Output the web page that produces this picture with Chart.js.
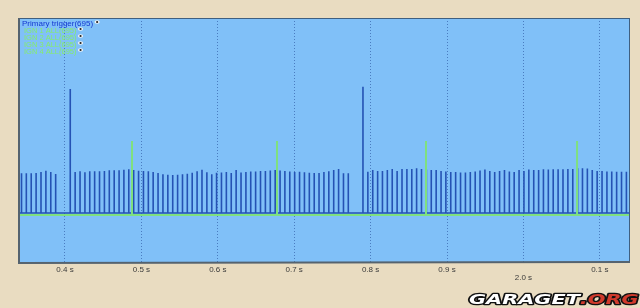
<!DOCTYPE html>
<html>
<head>
<meta charset="utf-8">
<script src="https://cdn.jsdelivr.net/npm/chart.js@4.4.1/dist/chart.umd.min.js"></script>
<style>
  html, body { margin: 0; padding: 0; background: #e9dcc1; }
  #wrap { width: 640px; height: 308px; position: relative; }
</style>
</head>
<body>
<div id="wrap"><canvas id="c" width="640" height="308"></canvas></div>
<script>
// ---- DATA ----
const tickValues = [0.4, 0.5, 0.6, 0.7, 0.8, 0.9, 1.0, 1.1];
const tickLabels = ['0.4 s', '0.5 s', '0.6 s', '0.7 s', '0.8 s', '0.9 s', ['', '2.0 s'], '0.1 s'];

// Primary trigger: tooth times (s) and tooth levels (two tall spikes after the gaps)
const triggerTimes = [
  0.3431, 0.3494, 0.3558, 0.3622, 0.3686, 0.3750, 0.3814, 0.3878,
  0.4069,
  0.4133, 0.4197, 0.4261, 0.4324, 0.4388, 0.4452, 0.4516, 0.4580, 0.4644, 0.4708,
  0.4771, 0.4835, 0.4899, 0.4963, 0.5027, 0.5091, 0.5154, 0.5218, 0.5282, 0.5346,
  0.5410, 0.5474, 0.5538, 0.5601, 0.5665, 0.5729, 0.5793, 0.5857, 0.5921, 0.5984,
  0.6048, 0.6112, 0.6176, 0.6240, 0.6304, 0.6368, 0.6431, 0.6495, 0.6559, 0.6623,
  0.6687, 0.6751, 0.6815, 0.6878, 0.6942, 0.7006, 0.7070, 0.7134, 0.7198, 0.7262,
  0.7325, 0.7389, 0.7453, 0.7517, 0.7581, 0.7645, 0.7708,
  0.7900,
  0.7964, 0.8028, 0.8092, 0.8155, 0.8219, 0.8283, 0.8347, 0.8411, 0.8475, 0.8539,
  0.8602, 0.8666, 0.8730, 0.8794, 0.8858, 0.8922, 0.8985, 0.9049, 0.9113, 0.9177,
  0.9241, 0.9305, 0.9369, 0.9432, 0.9496, 0.9560, 0.9624, 0.9688, 0.9752, 0.9816,
  0.9879, 0.9943, 1.0007, 1.0071, 1.0135, 1.0199, 1.0262, 1.0326, 1.0390, 1.0454,
  1.0518, 1.0582, 1.0646, 1.0709, 1.0773, 1.0837, 1.0901, 1.0965, 1.1029, 1.1093,
  1.1156, 1.1220, 1.1284, 1.1348
];
const triggerLevels = [
  3.97, 3.97, 3.97, 4.00, 4.10, 4.23, 4.10, 3.90,
  12.40,
  4.10, 4.17, 4.07, 4.17, 4.17, 4.17, 4.20, 4.27, 4.27, 4.27,
  4.33, 4.37, 4.30, 4.23, 4.20, 4.17, 4.10, 4.00, 3.87, 3.83,
  3.80, 3.83, 3.87, 3.93, 4.03, 4.17, 4.33, 4.07, 3.87, 4.03,
  4.05, 4.10, 4.00, 4.30, 4.05, 4.10, 4.15, 4.15, 4.20, 4.20,
  4.25, 4.30, 4.25, 4.20, 4.15, 4.10, 4.13, 4.07, 4.03, 4.00,
  4.00, 4.10, 4.17, 4.30, 4.40, 3.97, 3.97,
  12.63,
  4.13, 4.30, 4.20, 4.20, 4.30, 4.40, 4.20, 4.40, 4.40, 4.40,
  4.47, 4.40, 4.35, 4.30, 4.30, 4.20, 4.15, 4.10, 4.10, 4.05,
  4.05, 4.10, 4.15, 4.25, 4.35, 4.20, 4.10, 4.20, 4.30, 4.15,
  4.10, 4.30, 4.20, 4.35, 4.30, 4.30, 4.37, 4.35, 4.37, 4.37,
  4.37, 4.40, 4.40, 4.47, 4.47, 4.45, 4.30, 4.20, 4.20, 4.15,
  4.15, 4.13, 4.13, 4.13
];

// Ignition channels: one spark each in this window
const ignLabels = ['IGN 1 ALL(695)', 'IGN 2 ALL(695)', 'IGN 3 ALL(695)', 'IGN 4 ALL(695)'];
const ignTimes = [0.4877, 0.6775, 0.8725, 1.0702];
const ignLevels = [7.2, 7.2, 7.2, 7.2];
const ignBase = -0.2;
const triggerLabel = 'Primary trigger(695)';

// ---- CHART ----
const X_MIN = 0.3385, X_MAX = 1.1395;

function comb(times, levels, base) {
  const pts = [{ x: X_MIN, y: base }];
  times.forEach((t, i) => {
    pts.push({ x: t, y: base }, { x: t, y: levels[i] }, { x: t, y: base });
  });
  pts.push({ x: X_MAX, y: base });
  return pts;
}

const BLUE = '#2452b4';
const GREEN = '#7fe07f';

const datasets = [{
  label: triggerLabel,
  data: comb(triggerTimes, triggerLevels, 0),
  borderColor: BLUE, borderWidth: 1.6, pointRadius: 0, tension: 0, order: 1
}];
ignLabels.forEach((lab, i) => {
  datasets.push({
    label: lab,
    data: comb([ignTimes[i]], [ignLevels[i]], ignBase),
    borderColor: GREEN, borderWidth: 2, pointRadius: 0, tension: 0, order: 0
  });
});

const decor = {
  id: 'decor',
  beforeDraw(chart) {
    const { ctx, chartArea: a } = chart;
    ctx.save();
    ctx.fillStyle = '#80c0f8';
    ctx.fillRect(a.left, a.top, a.right - a.left, a.bottom - a.top);
    ctx.restore();
  },
  afterDatasetsDraw(chart) {
    const { ctx, chartArea: a } = chart;
    ctx.save();
    ctx.strokeStyle = '#3f5f80';
    ctx.lineWidth = 1;
    ctx.strokeRect(a.left + 0.5, a.top + 0.5, a.right - a.left - 1, a.bottom - a.top - 1);
    ctx.strokeStyle = '#55636f';
    ctx.lineWidth = 2;
    ctx.beginPath();
    ctx.moveTo(a.left + 1, a.top); ctx.lineTo(a.left + 1, a.bottom); ctx.lineTo(a.right, a.bottom - 1);
    ctx.stroke();
    ctx.restore();
  },
  afterDraw(chart) {
    const { ctx, chartArea: a } = chart;
    ctx.save();
    // legend
    const ds = chart.data.datasets;
    const rows = [24, 31, 38, 45, 52];
    ctx.textBaseline = 'middle';
    ds.forEach((d, i) => {
      ctx.font = (i === 0 ? '8px' : '7.5px') + ' "Liberation Sans", Arial, sans-serif';
      ctx.fillStyle = i === 0 ? '#1438d0' : '#86ec6a';
      const x = a.left + (i === 0 ? 4 : 6);
      ctx.fillText(d.label, x, rows[i]);
      const w = ctx.measureText(d.label).width;
      // small eye icon
      const ex = x + w + 4, ey = rows[i] - 2;
      ctx.fillStyle = '#f4f4f4';
      ctx.beginPath(); ctx.ellipse(ex, ey, 2.6, 1.8, 0, 0, Math.PI * 2); ctx.fill();
      ctx.fillStyle = '#202020';
      ctx.beginPath(); ctx.arc(ex, ey, 1.1, 0, Math.PI * 2); ctx.fill();
    });
    // watermark
    const parts = [['GARAGET', '#ffffff'], ['.ORG', '#d03a2c']];
    ctx.font = 'italic bold 14px "DejaVu Sans", sans-serif';
    const full = parts.map(p => p[0]).join('');
    const tw = ctx.measureText(full).width;
    const sx = 166 / tw;
    ctx.translate(469, 304);
    ctx.scale(sx, 1);
    ctx.textBaseline = 'alphabetic';
    ctx.lineJoin = 'round';
    let cx = 0;
    parts.forEach(([t, col]) => {
      ctx.lineWidth = 2.5;
      ctx.strokeStyle = '#111111';
      ctx.strokeText(t, cx, 0);
      ctx.fillStyle = col;
      ctx.fillText(t, cx, 0);
      cx += ctx.measureText(t).width;
    });
    ctx.restore();
  }
};

new Chart(document.getElementById('c'), {
  type: 'line',
  data: { datasets },
  options: {
    responsive: false,
    animation: false,
    events: [],
    layout: { padding: { left: 18, right: 10, top: 18, bottom: 0 } },
    plugins: { legend: { display: false }, tooltip: { enabled: false } },
    scales: {
      x: {
        type: 'linear', min: X_MIN, max: X_MAX,
        afterBuildTicks(scale) { scale.ticks = tickValues.map(v => ({ value: v })); },
        afterFit(scale) { scale.height = 45; },
        border: { display: false, dash: [1, 2] },
        grid: { color: '#4a7cc0', lineWidth: 1, drawTicks: false, tickLength: 0 },
        ticks: {
          autoSkip: false, maxRotation: 0, padding: 3,
          color: '#3a3a3a',
          font: { family: '"Liberation Sans", Arial, sans-serif', size: 8, lineHeight: 1.0 },
          callback(value, index) { return tickLabels[index]; }
        }
      },
      y: { type: 'linear', min: -5, max: 19.5, display: false }
    }
  },
  plugins: [decor]
});
</script>
</body>
</html>
